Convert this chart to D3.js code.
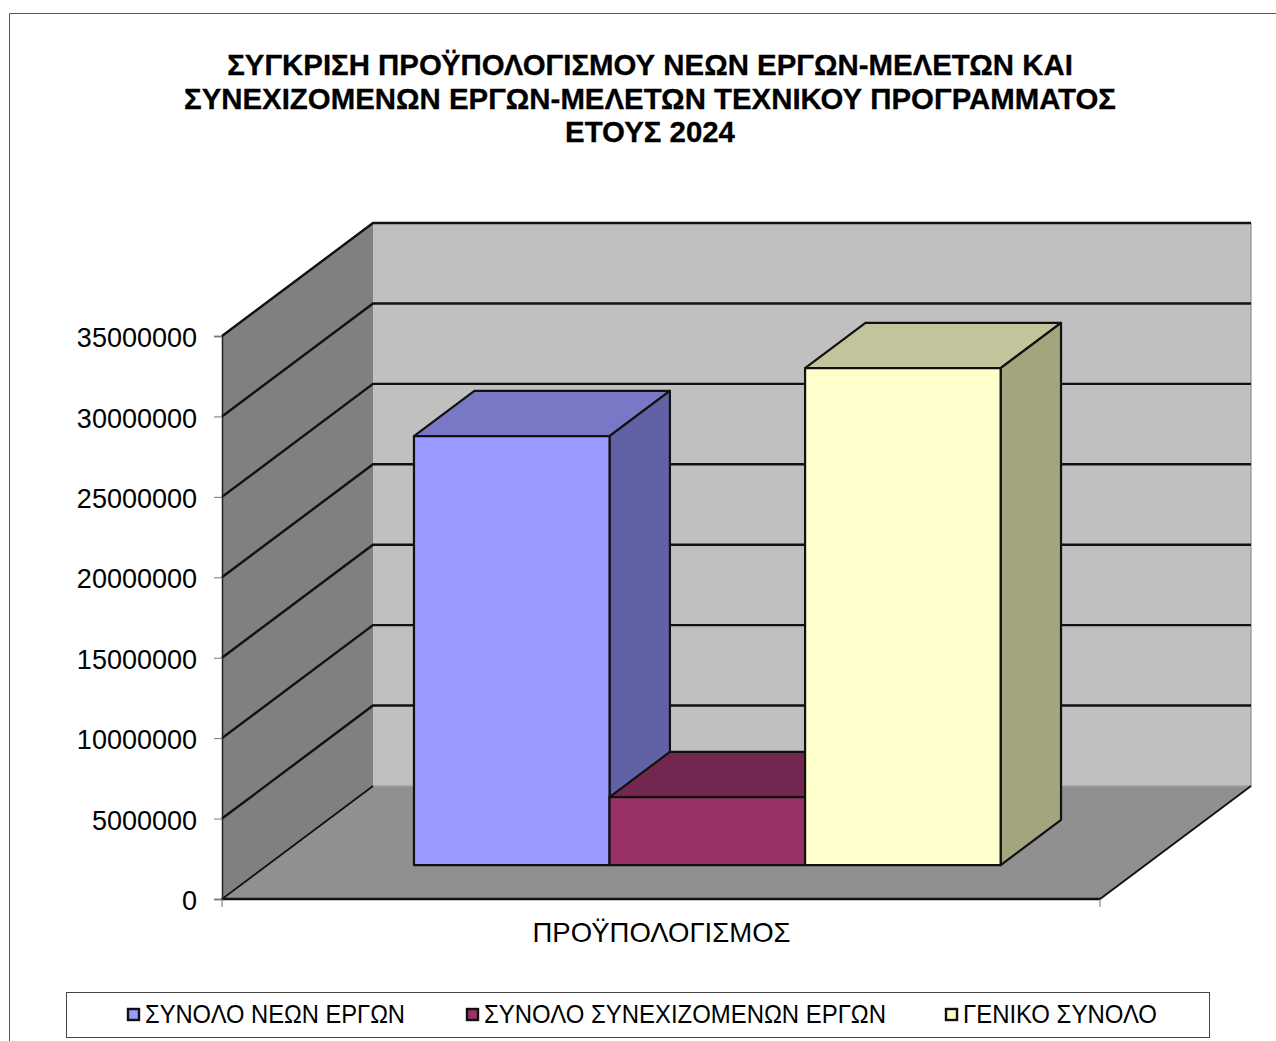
<!DOCTYPE html>
<html>
<head>
<meta charset="utf-8">
<script src="https://cdn.jsdelivr.net/npm/d3@7"></script>
<style>
  html, body { margin: 0; padding: 0; background: #fff; }
  svg { display: block; }
  text { font-family: "Liberation Sans", Arial, sans-serif; fill: #000; }
</style>
</head>
<body>
<svg id="chart" width="1276" height="1041"></svg>
<script>
const titleLines = [
  'ΣΥΓΚΡΙΣΗ ΠΡΟΫΠΟΛΟΓΙΣΜΟΥ ΝΕΩΝ ΕΡΓΩΝ-ΜΕΛΕΤΩΝ ΚΑΙ',
  'ΣΥΝΕΧΙΖΟΜΕΝΩΝ ΕΡΓΩΝ-ΜΕΛΕΤΩΝ ΤΕΧΝΙΚΟΥ ΠΡΟΓΡΑΜΜΑΤΟΣ',
  'ΕΤΟΥΣ 2024'
];
const categories = ['ΠΡΟΫΠΟΛΟΓΙΣΜΟΣ'];
const seriesNames = ['ΣΥΝΟΛΟ ΝΕΩΝ ΕΡΓΩΝ', 'ΣΥΝΟΛΟ ΣΥΝΕΧΙΖΟΜΕΝΩΝ ΕΡΓΩΝ', 'ΓΕΝΙΚΟ ΣΥΝΟΛΟ'];
const seriesValues = [26670000, 4230000, 30900000];
const tickValues = [0, 5000000, 10000000, 15000000, 20000000, 25000000, 30000000, 35000000];

const frontColors = ['#9999ff', '#993366', '#ffffcc'];
const topColors = ['#7878c6', '#73264f', '#c3c39c'];
const sideColors = ['#6161a5', '#5c1f40', '#a4a47f'];
const legendX = [127, 466, 945];
const legendWidths = [260, 402, 194];

const svg = d3.select('#chart');

// Plot box, front plane and how far the depth axis shifts a point
const PLOT = { left: 222, right: 1100, bottom: 899, top: 336 };
const DEPTH = { dx: 151, dy: -113 };
const BAR_DEPTH = [0.3, 0.7];

const yScale = d3.scaleLinear().domain([0, 35000000]).range([PLOT.bottom, PLOT.top]);
const xScale = d3.scaleBand().domain(seriesNames)
  .range([PLOT.left, PLOT.right + 2])
  .paddingInner(0)
  .paddingOuter(0.75);
const catScale = d3.scaleBand().domain(categories).range([PLOT.left, PLOT.right + 1]);

// Project a point (x on the front plane, value, depth 0..1) to the screen
const project = (x, v, z) => [x + z * DEPTH.dx, yScale(v) + z * DEPTH.dy];
const poly = pts => 'M' + pts.map(p => p.join(',')).join('L') + 'Z';
const line = pts => 'M' + pts.map(p => p.join(',')).join('L');

// Chart frame
svg.append('path')
  .attr('d', 'M9.5,1041V13.5H1276')
  .attr('fill', 'none')
  .attr('stroke', '#555')
  .attr('stroke-width', 1);

// Title
svg.append('g').selectAll('text')
  .data(titleLines)
  .join('text')
  .attr('x', 650)
  .attr('y', (d, i) => 75 + i * 33.5)
  .attr('text-anchor', 'middle')
  .attr('font-size', 29.4)
  .attr('font-weight', 'bold')
  .style('stroke', '#000')
  .style('stroke-width', 0.3)
  .text(d => d);

const maxV = yScale.domain()[1];

// Walls and floor
svg.append('path')
  .attr('d', poly([project(PLOT.left, 0, 1), project(PLOT.right, 0, 1), project(PLOT.right, maxV, 1), project(PLOT.left, maxV, 1)]))
  .attr('fill', '#c0c0c0');
svg.append('path')
  .attr('d', poly([project(PLOT.left, 0, 0), project(PLOT.left, 0, 1), project(PLOT.left, maxV, 1), project(PLOT.left, maxV, 0)]))
  .attr('fill', '#808080');
svg.append('path')
  .attr('d', poly([project(PLOT.left, 0, 0), project(PLOT.right, 0, 0), project(PLOT.right, 0, 1), project(PLOT.left, 0, 1)]))
  .attr('fill', '#909090');

// Right edge of back wall and the soft line where it meets the floor
svg.append('path')
  .attr('d', line([project(PLOT.left, 0, 1), project(PLOT.right, 0, 1), project(PLOT.right, maxV, 1)]))
  .attr('fill', 'none')
  .attr('stroke', '#a0a0a0')
  .attr('stroke-width', 1.5);

// Gridlines on the left wall and the back wall
svg.append('g').selectAll('path')
  .data(tickValues.filter(d => d > 0))
  .join('path')
  .attr('d', d => line([project(PLOT.left, d, 0), project(PLOT.left, d, 1), project(PLOT.right, d, 1)]))
  .attr('fill', 'none')
  .attr('stroke', '#111')
  .attr('stroke-width', 2.4);

// Floor outline
svg.append('path')
  .attr('d', line([project(PLOT.left, 0, 1), project(PLOT.left, 0, 0), project(PLOT.right, 0, 0), project(PLOT.right, 0, 1)]))
  .attr('fill', 'none')
  .attr('stroke', '#111')
  .attr('stroke-width', 1.8);
svg.append('path')
  .attr('d', line([project(PLOT.left, 0, 0), project(PLOT.right, 0, 0)]))
  .attr('fill', 'none')
  .attr('stroke', '#111')
  .attr('stroke-width', 2.6);

// Bars, drawn left to right so each front face covers the previous side
const bars = svg.append('g').selectAll('g')
  .data(seriesNames.map((name, i) => ({ name, value: seriesValues[i], i })))
  .join('g')
  .attr('stroke', '#111')
  .attr('stroke-width', 2.2)
  .attr('stroke-linejoin', 'round');

bars.append('path')
  .attr('fill', d => topColors[d.i])
  .attr('d', d => {
    const x0 = xScale(d.name), x1 = x0 + xScale.bandwidth();
    return poly([project(x0, d.value, BAR_DEPTH[0]), project(x1, d.value, BAR_DEPTH[0]),
      project(x1, d.value, BAR_DEPTH[1]), project(x0, d.value, BAR_DEPTH[1])]);
  });
bars.append('path')
  .attr('fill', d => sideColors[d.i])
  .attr('d', d => {
    const x1 = xScale(d.name) + xScale.bandwidth();
    return poly([project(x1, 0, BAR_DEPTH[0]), project(x1, 0, BAR_DEPTH[1]),
      project(x1, d.value, BAR_DEPTH[1]), project(x1, d.value, BAR_DEPTH[0])]);
  });
bars.append('path')
  .attr('fill', d => frontColors[d.i])
  .attr('d', d => {
    const x0 = xScale(d.name), x1 = x0 + xScale.bandwidth();
    return poly([project(x0, 0, BAR_DEPTH[0]), project(x1, 0, BAR_DEPTH[0]),
      project(x1, d.value, BAR_DEPTH[0]), project(x0, d.value, BAR_DEPTH[0])]);
  });

// Left wall edge and y axis
const yAxis = d3.axisLeft(yScale)
  .tickValues(tickValues)
  .tickFormat(d3.format('d'))
  .tickSize(8)
  .tickPadding(17);
const yG = svg.append('g')
  .attr('transform', `translate(${PLOT.left},0)`)
  .call(yAxis);
yG.select('.domain').attr('stroke', '#222').attr('stroke-width', 1.5);
yG.selectAll('.tick line').attr('stroke', '#777').attr('stroke-width', 1);
yG.selectAll('.tick text')
  .attr('font-size', 27)
  .attr('font-family', '"Liberation Sans", Arial, sans-serif')
  .attr('fill', '#000')
  .attr('y', 2);

// X axis: edge ticks and the category label
svg.append('g').selectAll('line')
  .data([PLOT.left, PLOT.right])
  .join('line')
  .attr('x1', d => d).attr('x2', d => d)
  .attr('y1', PLOT.bottom).attr('y2', PLOT.bottom + 8)
  .attr('stroke', '#777');
const xG = svg.append('g')
  .attr('transform', `translate(0,${PLOT.bottom})`)
  .call(d3.axisBottom(catScale).tickSize(0).tickPadding(23));
xG.select('.domain').remove();
xG.selectAll('.tick text')
  .attr('font-size', 27.5)
  .attr('font-family', '"Liberation Sans", Arial, sans-serif')
  .attr('fill', '#000');

// Legend
svg.append('rect')
  .attr('x', 66.5).attr('y', 992.5)
  .attr('width', 1143).attr('height', 45)
  .attr('fill', '#fff')
  .attr('stroke', '#444');
const legend = svg.append('g').selectAll('g')
  .data(seriesNames)
  .join('g')
  .attr('transform', (d, i) => `translate(${legendX[i]},0)`);
legend.append('rect')
  .attr('x', 1).attr('y', 1009)
  .attr('width', 11).attr('height', 11)
  .attr('fill', (d, i) => frontColors[i])
  .attr('stroke', '#111')
  .attr('stroke-width', 2.4);
legend.append('text')
  .attr('x', 18).attr('y', 1023)
  .attr('font-size', 25.5)
  .attr('textLength', (d, i) => legendWidths[i])
  .attr('lengthAdjust', 'spacingAndGlyphs')
  .text(d => d);
</script>
</body>
</html>
